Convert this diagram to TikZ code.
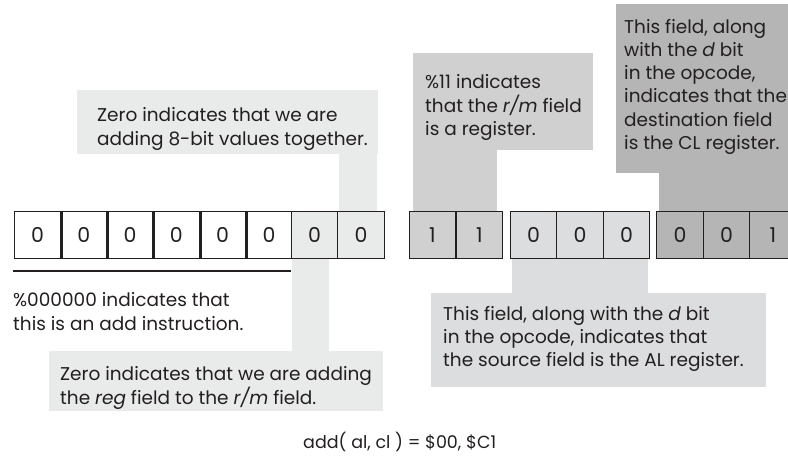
\documentclass[tikz,border=0pt]{standalone}
\usepackage{fontspec}
\setmainfont{Poppins}
\definecolor{cLight}{HTML}{E9EAEA}
\definecolor{cMid}{HTML}{DCDDDE}
\definecolor{cReg}{HTML}{D0D0D1}
\definecolor{cDark}{HTML}{B5B5B6}
\definecolor{ink}{HTML}{231F20}
\newcommand{\cotext}[1]{\begin{tabular}[t]{@{}l@{}}#1\end{tabular}}
\tikzset{
  bitcell/.style={draw=ink, line width=1.4pt, minimum width=46.5pt, minimum height=47pt,
    inner sep=0pt, anchor=north west, font=\fontsize{20.5}{22}\selectfont, text=ink},
  sepline/.style={draw=ink, line width=2.8pt},
  note/.style={anchor=base west, inner sep=0pt, text=ink, font=\fontsize{18.5}{23.3}\selectfont},
  rule/.style={draw=ink, line width=1.5pt}
}
\begin{document}
\begin{tikzpicture}[x=1pt,y=-1pt]
\useasboundingbox (0,0) rectangle (788,458);
% callout shapes
\fill[cLight] (77,90) rectangle (378,154);
\fill[cLight] (339,153) rectangle (377,212);
\fill[cReg] (413,53) rectangle (593,150);
\fill[cReg] (413,149) rectangle (497,212);
\fill[cDark] (616,4) rectangle (790,173);
\fill[cDark] (659,172) rectangle (790,212);
\fill[cMid] (512,257) rectangle (648,294);
\fill[cMid] (431,293) rectangle (766,387);
\fill[cLight] (292,257) rectangle (329,352);
\fill[cLight] (49,351) rectangle (383,411);
% left byte
\node[bitcell] (a1) at (13.5,211) {0};
\node[bitcell] (a2) at (59.8,211) {0};
\node[bitcell] (a3) at (106.1,211) {0};
\node[bitcell] (a4) at (152.4,211) {0};
\node[bitcell] (a5) at (198.7,211) {0};
\node[bitcell] (a6) at (245,211) {0};
\node[bitcell, fill=cLight] (a7) at (290.5,211) {0};
\node[bitcell, fill=cLight] (a8) at (337,211) {0};
\draw[sepline] (a1.north east) -- (a1.south east);
\draw[sepline] (a2.north east) -- (a2.south east);
\draw[sepline] (a3.north east) -- (a3.south east);
\draw[sepline] (a4.north east) -- (a4.south east);
\draw[sepline] (a5.north east) -- (a5.south east);
% right byte
\node[bitcell, fill=cReg] (b1) at (408.5,211) {1};
\node[bitcell, fill=cReg] (b2) at (455.5,211) {1};
\node[bitcell, fill=cMid] (b3) at (509.5,211) {0};
\node[bitcell, fill=cMid] (b4) at (556,211) {0};
\node[bitcell, fill=cMid] (b5) at (602.5,211) {0};
\node[bitcell, fill=cDark] (b6) at (656,211) {0};
\node[bitcell, fill=cDark] (b7) at (702.5,211) {0};
\node[bitcell, fill=cDark] (b8) at (749,211) {1};
% rule under opcode bits
\coordinate (r0) at (13,271);
\coordinate (r1) at (291,271);
\draw[rule] (r0) -- (r1);
% texts
\node[note] (t1) at (97,121.7) {\cotext{Zero indicates that we are\\adding 8-bit values together.}};
\node[note] (t2) at (425,88) {\cotext{\%11 indicates\\that the \textit{r/m} field\\is a register.}};
\node[note] (t3) at (624,33) {\cotext{This field, along\\with the \textit{d} bit\\in the opcode,\\indicates that the\\destination field\\is the CL register.}};
\node[note] (t4) at (443,320) {\cotext{This field, along with the \textit{d} bit\\in the opcode, indicates that\\the source field is the AL register.}};
\node[note] (t5) at (13,306.7) {\cotext{\%000000 indicates that\\this is an add instruction.}};
\node[note] (t6) at (60,380) {\cotext{Zero indicates that we are adding\\the \textit{reg} field to the \textit{r/m} field.}};
\node[note, font=\fontsize{17.5}{20}\selectfont] (t7) at (303,448) {add( al, cl ) = \$00, \$C1};
\end{tikzpicture}
\end{document}
